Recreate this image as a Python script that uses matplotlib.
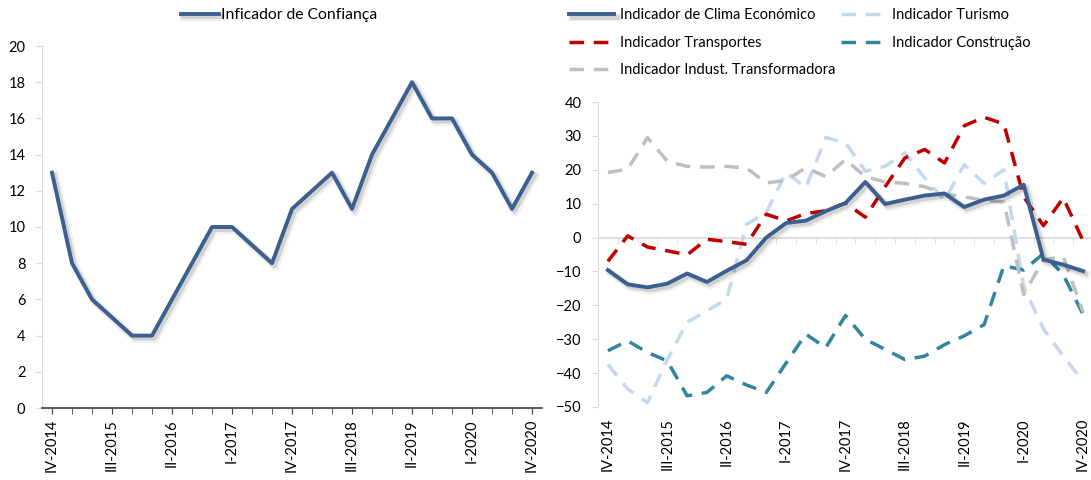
import numpy as np
import matplotlib
matplotlib.use("Agg")
import matplotlib.pyplot as plt
import matplotlib.patheffects as pe

plt.rcParams['font.family'] = ['Lato', 'DejaVu Sans']

# Quarterly data, IV-2014 .. IV-2020
quarters = ["IV-2014", "I-2015", "II-2015", "III-2015", "IV-2015",
            "I-2016", "II-2016", "III-2016", "IV-2016",
            "I-2017", "II-2017", "III-2017", "IV-2017",
            "I-2018", "II-2018", "III-2018", "IV-2018",
            "I-2019", "II-2019", "III-2019", "IV-2019",
            "I-2020", "II-2020", "III-2020", "IV-2020"]

confianca = [13, 8, 6, 5, 4, 4, 6, 8, 10, 10, 9, 8, 11, 12, 13, 11, 14, 16, 18, 16, 16, 14, 13, 11, 13]

clima = [-9.6, -13.8, -14.7, -13.6, -10.6, -13.1, -9.8, -6.7, 0, 4.3, 5, 7.8, 10.2,
         16.4, 9.9, 11.2, 12.4, 13, 9, 11.2, 12.4, 15.6, -6.5, -8, -9.9]
turismo = [-37.4, -44.7, -48.7, -36, -25, -21.6, -18.2, 3.9, 7.4, 19.2, 14.7, 29.5, 28,
           19.6, 21, 25, 17.6, 11, 21.5, 16, 20, -14.5, -27, -35, -42.5]
transportes = [-7, 0.5, -2.8, -3.9, -5.1, -0.5, -1.2, -2, 6.9, 4.9, 7.1, 7.9, 10.2,
               6, 15, 23.5, 26, 22, 33, 35.5, 33.5, 12, 3.5, 11.7, -1]
construcao = [-33.4, -30.5, -33.9, -36.4, -46.7, -45.7, -40.8, -43.5, -45.7, -37, -28.5, -32.5, -23,
              -30, -33, -36, -35, -31.6, -29, -25.7, -8.3, -9.6, -4.7, -11, -22.7]
industria = [19.2, 20.2, 29.5, 22.5, 21, 20.8, 21, 20.5, 16.1, 16.9, 20.6, 18, 23,
             18, 16.4, 16, 15, 12.9, 12, 11, 10.5, -16.8, -6.5, -5.7, -22]

label_step = 3

c_blue = '#3B5F8F'
c_light = '#C5D8EF'
c_red = '#C00000'
c_teal = '#31859C'
c_gray = '#BFBFBF'
c_axis = '#D9D9D9'

x = np.arange(len(quarters))
tick_pos = x[::label_step]
tick_lab = quarters[::label_step]

# soft drop shadow under the solid lines
shadow = [pe.SimpleLineShadow(offset=(2.2, -2.2), shadow_color='k', alpha=0.06, linewidth=6),
          pe.SimpleLineShadow(offset=(1.8, -1.8), shadow_color='k', alpha=0.12, linewidth=3.5),
          pe.Normal()]

fig = plt.figure(figsize=(10.91, 4.80), dpi=100)

# ---- left chart
ax1 = fig.add_axes([42 / 1091, 72 / 480, 500 / 1091, 362 / 480])
l1, = ax1.plot(x, confianca, color=c_blue, lw=2.8, path_effects=shadow,
               label='Inficador de Confiança')
ax1.set_xlim(-0.5, 24.5)
ax1.set_ylim(0, 20)
ax1.set_yticks(range(0, 21, 2))
ax1.set_xticks(x, minor=True)
ax1.set_xticks(tick_pos, tick_lab, rotation=90)
for s in ['top', 'right']:
    ax1.spines[s].set_visible(False)
ax1.spines['left'].set_color(c_axis)
ax1.spines['bottom'].set_color('#404040')
ax1.spines['bottom'].set_linewidth(1.2)
ax1.tick_params(axis='y', length=4, color=c_axis, pad=8, labelsize=10.5)
ax1.tick_params(axis='x', which='both', length=4, color='#404040', pad=4, labelsize=10.5)

fig.legend(handles=[l1], loc='center', bbox_to_anchor=(279 / 1091, 1 - 15 / 480),
           frameon=False, fontsize=11.3, handlelength=2.4, handletextpad=0.15)

# ---- right chart
ax2 = fig.add_axes([598 / 1091, 73 / 480, 495 / 1091, 305 / 480])
h_clima, = ax2.plot(x, clima, color=c_blue, lw=2.8, path_effects=shadow,
                    label='Indicador de Clima Económico', zorder=5)
h_tur, = ax2.plot(x, turismo, color=c_light, lw=2.5, dashes=(4.2, 2.8),
                  label='Indicador Turismo')
h_tra, = ax2.plot(x, transportes, color=c_red, lw=2.5, dashes=(4.2, 2.8),
                  label='Indicador Transportes')
h_con, = ax2.plot(x, construcao, color=c_teal, lw=2.5, dashes=(4.2, 2.8),
                  label='Indicador Construção')
h_ind, = ax2.plot(x, industria, color=c_gray, lw=2.5, dashes=(4.2, 2.8),
                  label='Indicador Indust. Transformadora')
ax2.set_xlim(-0.5, 24.5)
ax2.set_ylim(-50, 40)
ax2.set_yticks(range(-50, 41, 10))
for s in ['top', 'right']:
    ax2.spines[s].set_visible(False)
ax2.spines['left'].set_color(c_axis)
ax2.spines['bottom'].set_position(('data', 0))
ax2.spines['bottom'].set_color(c_axis)
ax2.spines['bottom'].set_linewidth(1.2)
ax2.spines['bottom'].set_zorder(0.5)
ax2.set_xticks([])
ax2.set_xticks(x + 0.5, minor=True)
ax2.tick_params(axis='x', which='minor', length=4, color=c_axis)
ax2.tick_params(axis='y', length=4, color=c_axis, pad=8, labelsize=10.5)

sec = ax2.secondary_xaxis('bottom')
sec.set_xticks(tick_pos, tick_lab)
sec.tick_params(length=0, pad=8, labelsize=10.5, labelrotation=90)
sec.spines['bottom'].set_visible(False)

fig.legend(handles=[h_clima, h_tra, h_ind, h_tur, h_con], ncol=2,
           loc='upper left', bbox_to_anchor=(556 / 1091, 1.01),
           frameon=False, fontsize=10.5, handlelength=3.1, handletextpad=0.4,
           columnspacing=0.35, labelspacing=0.92)

fig.savefig('out.png', dpi=100)
